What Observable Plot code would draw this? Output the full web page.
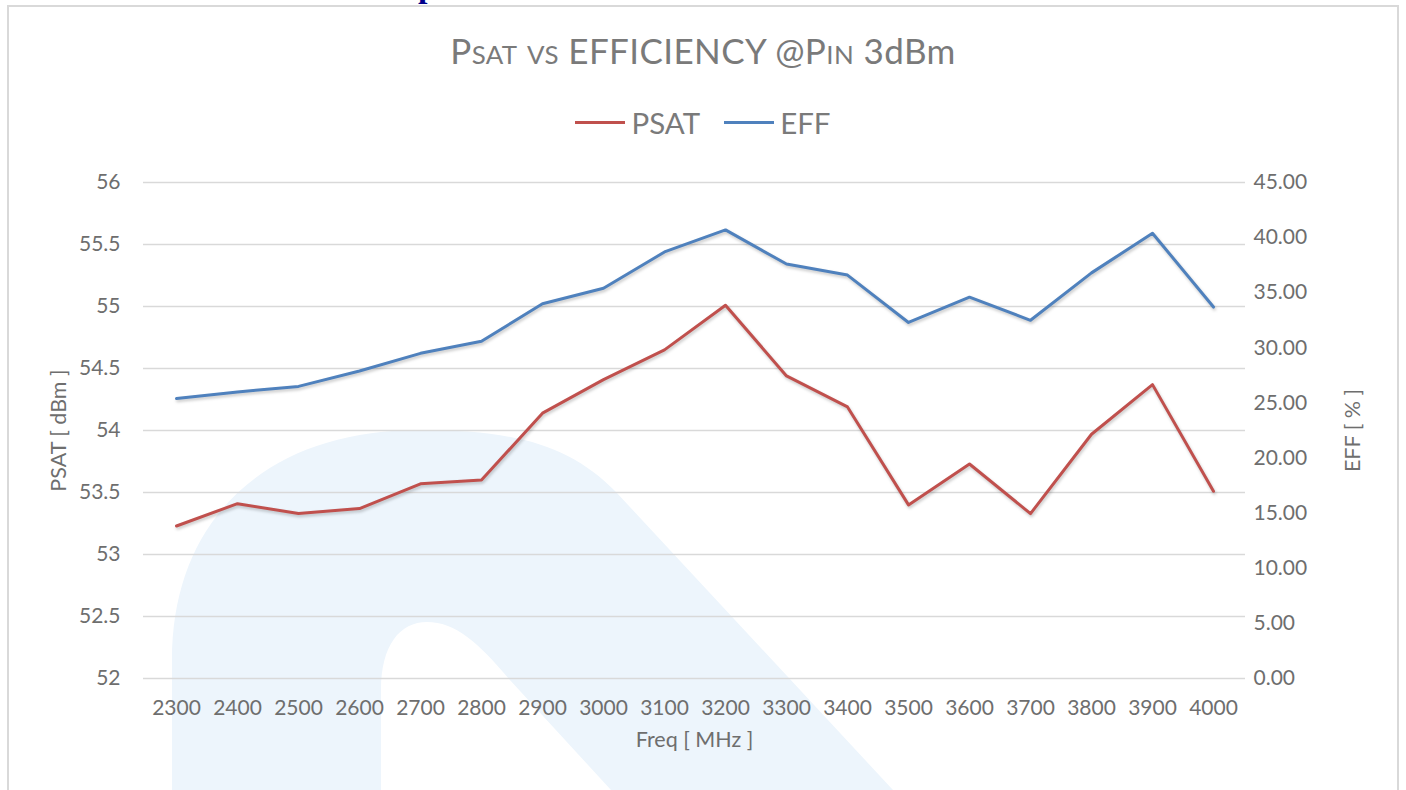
<!DOCTYPE html>
<html>
<head>
<meta charset="utf-8">
<script src="https://cdn.jsdelivr.net/npm/d3@7"></script>
<script src="https://cdn.jsdelivr.net/npm/@observablehq/plot@0.6"></script>
<style>
  html, body { margin: 0; padding: 0; background: #fff; }
  body { width: 1406px; height: 790px; overflow: hidden; position: relative; font-family: Lato, "Open Sans", sans-serif; }
  #frame { position: absolute; left: 7px; top: 5px; width: 1392px; height: 820px; border: 2px solid #d9d9d9; box-sizing: border-box; }
  #clip { position: absolute; left: 418px; top: -31px; font-family: "Liberation Serif", serif; font-weight: bold; font-size: 34px; color: #00008b; line-height: 1; }
  #wm { position: absolute; left: 0; top: 0; }
  #title { position: absolute; top: 29px; left: 0; width: 1406px; text-align: center; font-size: 35px; color: #7a7a7a; letter-spacing: 0.4px; }
  #title .sc { font-size: 0.74em; }
  #legend { position: absolute; top: 105px; left: 0; width: 1406px; display: flex; justify-content: center; align-items: center; gap: 24px; font-size: 29.5px; color: #7a7a7a; }
  #legend .item { display: flex; align-items: center; gap: 6px; }
  #legend .sw { width: 50px; height: 3px; }
  #chart { position: absolute; left: 0; top: 150px; }
  #chart g[aria-label="line"] path { filter: drop-shadow(1px 2px 1.5px rgba(0,0,0,0.22)); }
</style>
</head>
<body>
<svg id="wm" width="1406" height="790">
  <path fill="#edf5fc" fill-rule="evenodd"
    d="M172,790 L172,660 C172,520 265,430 420,430 C515,430 570,445 616,492 L893,790 Z
       M381,790 L381,690 C381,645 400,622 427,622 C455,622 478,642 509,679 L611,790 Z"/>
</svg>
<div id="frame"></div>
<div id="clip">p</div>
<div id="title">P<span class="sc">SAT</span> <span class="sc">VS</span> EFFICIENCY @P<span class="sc">IN</span> 3dBm</div>
<div id="legend"></div>
<div id="chart"></div>
<script>
const freq = [2300, 2400, 2500, 2600, 2700, 2800, 2900, 3000, 3100, 3200, 3300, 3400, 3500, 3600, 3700, 3800, 3900, 4000];
const psat = [53.23, 53.41, 53.33, 53.37, 53.57, 53.60, 54.14, 54.41, 54.65, 55.01, 54.44, 54.19, 53.40, 53.73, 53.33, 53.97, 54.37, 53.51];
const eff  = [25.4, 26.0, 26.5, 27.9, 29.5, 30.6, 34.0, 35.4, 38.7, 40.7, 37.6, 36.6, 32.3, 34.6, 32.5, 36.8, 40.4, 33.7];
const psatTicks = [52, 52.5, 53, 53.5, 54, 54.5, 55, 55.5, 56];
const effTicks = [0, 5, 10, 15, 20, 25, 30, 35, 40, 45];
const seriesNames = ["PSAT", "EFF"];
const seriesColors = ["#c0504d", "#4f81bd"];

const yMin = 52, yMax = 56, effMax = 45;
const toLeft = e => yMin + e * (yMax - yMin) / effMax;
const fromLeft = v => (v - yMin) * effMax / (yMax - yMin);

const rows = freq.flatMap((f, i) => [
  {freq: f, series: "PSAT", v: psat[i]},
  {freq: f, series: "EFF", v: toLeft(eff[i])}
]);

// legend
const legend = document.getElementById("legend");
seriesNames.forEach((n, i) => {
  const it = document.createElement("div");
  it.className = "item";
  const sw = document.createElement("div");
  sw.className = "sw";
  sw.style.background = seriesColors[i];
  const t = document.createElement("span");
  t.textContent = n;
  it.appendChild(sw); it.appendChild(t);
  legend.appendChild(it);
});

const tickColor = "#6e6e6e";
const chart = Plot.plot({
  width: 1406,
  height: 640,
  marginTop: 32,
  marginBottom: 112,
  marginLeft: 143,
  marginRight: 161,
  style: {background: "transparent", fontFamily: "Lato, 'Open Sans', sans-serif", color: tickColor},
  x: {type: "point", domain: freq, padding: 0.5},
  y: {domain: [yMin, yMax]},
  color: {domain: seriesNames, range: seriesColors},
  marks: [
    Plot.gridY(psatTicks, {stroke: "#d9d9d9", strokeOpacity: 1, strokeWidth: 1.5}),
    Plot.axisY({ticks: psatTicks, tickSize: 0, tickPadding: 23, fontSize: 21, tickFormat: d => String(d), label: null}),
    Plot.axisY({anchor: "right", ticks: effTicks.map(toLeft), tickSize: 0, tickPadding: 8, fontSize: 21,
      tickFormat: d => fromLeft(d).toFixed(2), label: null}),
    Plot.axisX({tickSize: 0, tickPadding: 22, fontSize: 21, tickFormat: d => String(d), label: null}),
    Plot.axisY({ticks: [], label: "PSAT [ dBm ]", labelArrow: "none", labelAnchor: "center", labelOffset: 93, fontSize: 21.5}),
    Plot.axisY({anchor: "right", ticks: [], label: "EFF [ % ]", labelArrow: "none", labelAnchor: "center", labelOffset: 114, fontSize: 21.5}),
    Plot.axisX({ticks: [], label: "Freq [ MHz ]", labelArrow: "none", labelAnchor: "center", labelOffset: 68, fontSize: 21.5}),
    Plot.line(rows, {x: "freq", y: "v", z: "series", stroke: "series", strokeWidth: 3})
  ]
});
document.getElementById("chart").appendChild(chart);
</script>
</body>
</html>
